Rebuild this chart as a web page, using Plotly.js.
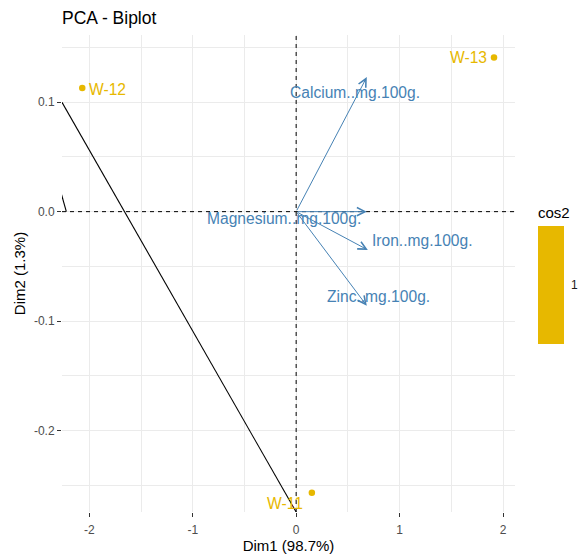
<!DOCTYPE html>
<html>
<head>
<meta charset="utf-8">
<script src="https://cdn.plot.ly/plotly-3.0.1.min.js"></script>
<style>html,body{margin:0;padding:0;background:#fff;}#chart{width:579px;height:554px;}</style>
</head>
<body>
<div id="chart"></div>
<script>
// ---- data ----
const individuals = ['W-11', 'W-12', 'W-13'];
const indDim1 = [0.152, -2.068, 1.913];
const indDim2 = [-0.257, 0.113, 0.141];
const indCos2 = [1, 1, 1];

const variables = ['Calcium..mg.100g.', 'Magnesium..mg.100g.', 'Iron..mg.100g.', 'Zinc..mg.100g.'];
const varDim1 = [0.683, 0.683, 0.693, 0.683];
const varDim2 = [0.123, 0.000, -0.035, -0.086];

const xTickVals = [-2, -1, 0, 1, 2];
const xTickText = ['-2', '-1', '0', '1', '2'];
const yTickVals = [-0.2, -0.1, 0, 0.1];
const yTickText = ['-0.2', '-0.1', '0.0', '0.1'];
const xMinorVals = [-1.5, -0.5, 0.5, 1.5];
const yMinorVals = [-0.25, -0.15, -0.05, 0.05, 0.15];

const legendTickVals = [1];
const legendTickText = ['1'];

// stray black segments seen in the reference
const strayX0 = [-2.264, -2.268];
const strayY0 = [0.100, 0.0155];
const strayX1 = [0, -2.222];
const strayY1 = [-0.2746, 0];

// ---- styles / offsets ----
const FONT = 'Liberation Sans, Arial, Helvetica, sans-serif';
const GOLD = '#E7B800';
const BLUE = '#4682B4';
const GRID = '#EBEBEB';
const xRange = [-2.264, 2.116];
const yRange = [-0.2746, 0.1615];
const plotW = 453, plotH = 477;
const cbX = 1.0508, cbThick = 26, cbBottom = 0.3522, cbBarLen = 116;
const indLabelShift = {'W-11': [-27, -11], 'W-12': [25, -1.5], 'W-13': [-26, 0]};
const varLabelShift = {
  'Calcium..mg.100g.': [-12, -15],
  'Magnesium..mg.100g.': [-83, -7],
  'Iron..mg.100g.': [55, 9],
  'Zinc..mg.100g.': [12, 9]
};

const traces = [{
  type: 'scatter',
  mode: 'markers',
  x: indDim1,
  y: indDim2,
  text: individuals,
  hoverinfo: 'text',
  marker: {
    size: 6.5,
    color: indCos2,
    cmin: 0.9995,
    cmax: 1.0005,
    colorscale: [[0, GOLD], [1, GOLD]],
    showscale: true,
    colorbar: {
      title: {text: 'cos2', side: 'top', font: {family: FONT, size: 15, color: '#000'}},
      x: cbX, xanchor: 'left', xref: 'paper',
      y: cbBottom, yanchor: 'bottom', yref: 'paper',
      len: 140, lenmode: 'pixels',
      thickness: cbThick, thicknessmode: 'pixels',
      xpad: 0, ypad: 0,
      outlinewidth: 0,
      tickmode: 'array', tickvals: legendTickVals, ticktext: legendTickText,
      ticks: 'outside', ticklen: 5, tickcolor: 'rgba(0,0,0,0)', tickwidth: 1,
      tickfont: {family: FONT, size: 12, color: '#1a1a1a'}
    }
  },
  showlegend: false
}];

const shapes = [
  {type: 'line', xref: 'x', yref: 'paper', x0: 0, x1: 0, y0: 0, y1: 1,
   line: {color: '#000', width: 1, dash: '4px,4px'}},
  {type: 'line', xref: 'paper', yref: 'y', x0: 0, x1: 1, y0: 0, y1: 0,
   line: {color: '#000', width: 1, dash: '4px,4px'}}
];
for (let i = 0; i < strayX0.length; i++) {
  shapes.push({type: 'line', xref: 'x', yref: 'y',
    x0: strayX0[i], y0: strayY0[i], x1: strayX1[i], y1: strayY1[i],
    line: {color: '#000', width: 1.1}});
}
// white tick marks on the colour bar (at value 1 = bar middle)
const cbTickY = cbBottom + (cbBarLen / 2) / plotH;
const tickFrac = 5 / plotW;
const cbRight = cbX + cbThick / plotW;
shapes.push({type: 'line', xref: 'paper', yref: 'paper', x0: cbX, x1: cbX + tickFrac, y0: cbTickY, y1: cbTickY,
  line: {color: '#ffffff', width: 1}});
shapes.push({type: 'line', xref: 'paper', yref: 'paper', x0: cbRight - tickFrac, x1: cbRight, y0: cbTickY, y1: cbTickY,
  line: {color: '#ffffff', width: 1}});

const annotations = [];
// variable arrows
for (let i = 0; i < variables.length; i++) {
  annotations.push({
    x: varDim1[i], y: varDim2[i], xref: 'x', yref: 'y',
    ax: 0, ay: 0, axref: 'x', ayref: 'y',
    text: '', showarrow: true,
    arrowhead: 5, arrowsize: 1.6, arrowwidth: 1, arrowcolor: BLUE,
    standoff: 0, startstandoff: 0,
    font: {size: 1}
  });
}
// variable labels
for (let i = 0; i < variables.length; i++) {
  const s = varLabelShift[variables[i]];
  annotations.push({
    x: varDim1[i], y: varDim2[i], xref: 'x', yref: 'y',
    text: variables[i], showarrow: false,
    xshift: s[0], yshift: s[1],
    xanchor: 'center', yanchor: 'middle',
    font: {family: FONT, size: 15.6, color: BLUE}
  });
}
// individual labels
for (let i = 0; i < individuals.length; i++) {
  const s = indLabelShift[individuals[i]];
  annotations.push({
    x: indDim1[i], y: indDim2[i], xref: 'x', yref: 'y',
    text: individuals[i], showarrow: false,
    xshift: s[0], yshift: s[1],
    xanchor: 'center', yanchor: 'middle',
    font: {family: FONT, size: 15.6, color: GOLD}
  });
}

const layout = {
  width: 579, height: 554,
  margin: {l: 62, r: 64, t: 35, b: 42, pad: 0, autoexpand: false},
  paper_bgcolor: '#ffffff',
  plot_bgcolor: '#ffffff',
  font: {family: FONT, color: '#000'},
  title: {
    text: 'PCA - Biplot',
    font: {family: FONT, size: 17.5, color: '#000'},
    xref: 'paper', x: 0, xanchor: 'left',
    yref: 'container', y: 1 - 18 / 554, yanchor: 'middle'
  },
  xaxis: {
    range: xRange, autorange: false,
    tickmode: 'array', tickvals: xTickVals, ticktext: xTickText,
    ticks: 'outside', ticklen: 4, tickcolor: '#333333', tickwidth: 1,
    ticklabelstandoff: 3,
    tickfont: {family: FONT, size: 12, color: '#4D4D4D'},
    showgrid: true, gridcolor: GRID, gridwidth: 1,
    minor: {tickmode: 'array', tickvals: xMinorVals, showgrid: true, gridcolor: GRID, gridwidth: 1, ticks: ''},
    zeroline: false, showline: false,
    title: {text: 'Dim1 (98.7%)', font: {family: FONT, size: 15, color: '#000'}, standoff: 3},
    automargin: false
  },
  yaxis: {
    range: yRange, autorange: false,
    tickmode: 'array', tickvals: yTickVals, ticktext: yTickText,
    ticks: 'outside', ticklen: 4, tickcolor: '#333333', tickwidth: 1,
    tickfont: {family: FONT, size: 12, color: '#4D4D4D'},
    showgrid: true, gridcolor: GRID, gridwidth: 1,
    minor: {tickmode: 'array', tickvals: yMinorVals, showgrid: true, gridcolor: GRID, gridwidth: 1, ticks: ''},
    zeroline: false, showline: false,
    title: {text: 'Dim2 (1.3%)', font: {family: FONT, size: 15, color: '#000'}, standoff: 4},
    automargin: false
  },
  shapes: shapes,
  annotations: annotations,
  showlegend: false
};

Plotly.newPlot('chart', traces, layout, {displayModeBar: false, staticPlot: true});
</script>
</body>
</html>
